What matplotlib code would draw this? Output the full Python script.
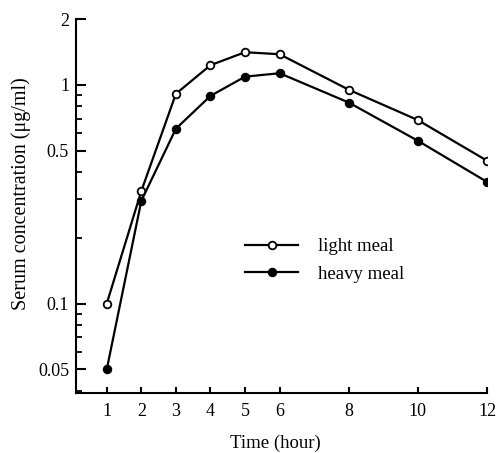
import matplotlib
matplotlib.use("Agg")
import matplotlib.pyplot as plt
from matplotlib.ticker import FixedLocator, NullFormatter

plt.rcParams['font.family'] = ['Liberation Serif', 'DejaVu Serif']

hours = [1, 2, 3, 4, 5, 6, 8, 10, 12]
light_meal = [0.10, 0.327, 0.91, 1.23, 1.41, 1.38, 0.95, 0.69, 0.45]
heavy_meal = [0.05, 0.295, 0.63, 0.89, 1.09, 1.13, 0.83, 0.555, 0.36]
x_ticks = [1, 2, 3, 4, 5, 6, 8, 10, 12]
y_ticks = [0.05, 0.1, 0.5, 1, 2]
y_ticklabels = ["0.05", "0.1", "0.5", "1", "2"]

fig = plt.figure(figsize=(5.02, 4.53), dpi=100)
ax = fig.add_axes([76/502, 1-393/453, (487-76)/502, (393-19)/453])

ax.plot(hours, light_meal, '-o', color='black', lw=1.6, ms=5.5,
        markerfacecolor='white', markeredgewidth=1.3, label='light meal')
ax.plot(hours, heavy_meal, '-o', color='black', lw=1.6, ms=5.5,
        markerfacecolor='black', markeredgewidth=1.3, label='heavy meal')

ax.set_yscale('log')
ax.set_ylim(0.039, 2)
ax.set_xlim(0.11, 12)

ax.yaxis.set_major_locator(FixedLocator(y_ticks))
ax.set_yticklabels(y_ticklabels)
minors = [m * d for d in (0.01, 0.1, 1) for m in range(2, 10)]
minors = [v for v in minors if 0.039 <= v <= 2 and v not in y_ticks]
ax.yaxis.set_minor_locator(FixedLocator(minors))
ax.yaxis.set_minor_formatter(NullFormatter())
ax.set_xticks(x_ticks)
ax.set_xticklabels([str(t) for t in x_ticks])

for s in ['top', 'right']:
    ax.spines[s].set_visible(False)
for s in ['left', 'bottom']:
    ax.spines[s].set_linewidth(1.5)

ax.tick_params(axis='y', which='major', direction='in', length=7, width=1.5,
               labelsize=13, pad=5)
ax.tick_params(axis='y', which='minor', direction='in', length=4, width=1.3)
ax.tick_params(axis='x', which='major', direction='in', length=4, width=1.5,
               labelsize=13, pad=7)

ax.set_ylabel("Serum concentration (μg/ml)", fontsize=14.5)
ax.yaxis.set_label_coords(-0.11, 0.533)
ax.set_xlabel("Time (hour)", fontsize=13.5)
ax.xaxis.set_label_coords(0.484, -0.112)

ax.legend(loc='upper left', bbox_to_anchor=(0.412, 0.414), frameon=False,
          fontsize=13.5, handlelength=2.8, handletextpad=1.1, labelspacing=0.55,
          borderpad=0, borderaxespad=0)

fig.savefig("out.png", dpi=100)
